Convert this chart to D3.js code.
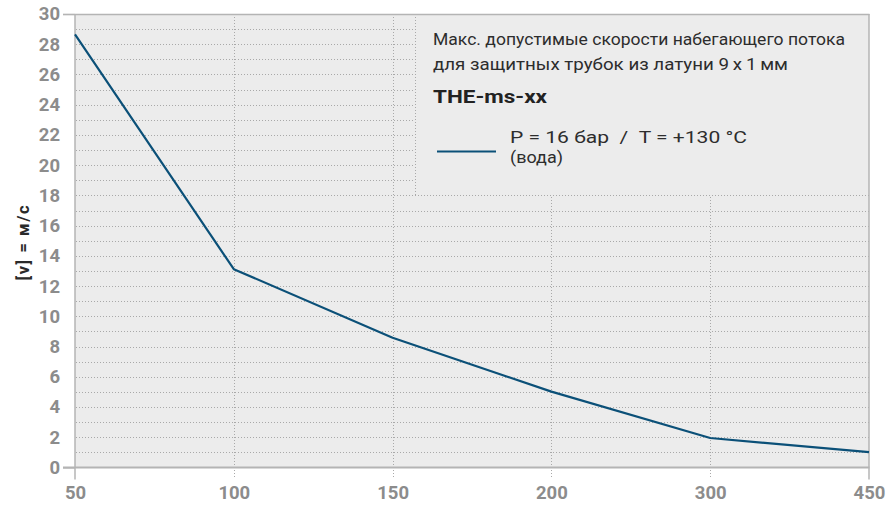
<!DOCTYPE html>
<html>
<head>
<meta charset="utf-8">
<script src="https://cdn.jsdelivr.net/npm/d3@7"></script>
<style>
  html, body { margin: 0; padding: 0; background: #ffffff; }
  svg { display: block; }
</style>
</head>
<body>
<svg id="chart" width="888" height="507"></svg>
<script>
// ---- data ----
const categories = ["50", "100", "150", "200", "300", "450"];
const velocities = [28.65, 13.12, 8.58, 5.02, 1.95, 1.02];
const yTickValues = [0, 2, 4, 6, 8, 10, 12, 14, 16, 18, 20, 22, 24, 26, 28, 30];
const yMinorValues = d3.range(1, 30, 1);
const yAxisLabel = "[v] = м/с";
const titleLines = ["Макс. допустимые скорости набегающего потока", "для защитных трубок из латуни 9\u2009x\u20091\u2009мм"];
const productName = "THE-ms-xx";
const seriesLabel = ["P = 16 бар  /  T = +130 °C", "(вода)"];

// ---- layout ----
const pL = 75, pR = 869, pT = 14, pB = 467.5;
const svg = d3.select("#chart");
const x = d3.scalePoint().domain(categories).range([pL, pR]);
const y = d3.scaleLinear().domain([0, 30]).range([pB, pT]);

const lineColor = "#0b5078";
const gridColor = "#a9a9a9";
const axisColor = "#b4b4b4";
const tickTextColor = "#8c8c8c";
const bg = "#ececec";
const tf = "Roboto, 'DejaVu Sans', sans-serif";

// plot background
svg.append("rect").attr("x", pL).attr("y", pT)
  .attr("width", pR - pL).attr("height", pB - pT).attr("fill", bg);

// horizontal dotted gridlines (every unit)
svg.append("g").selectAll("line").data(yMinorValues).join("line")
  .attr("x1", pL + 1).attr("x2", pR)
  .attr("y1", d => Math.round(y(d)) + 0.5).attr("y2", d => Math.round(y(d)) + 0.5)
  .attr("stroke", gridColor).attr("stroke-width", 1).attr("stroke-dasharray", "1,2");

// vertical dotted gridlines
svg.append("g").selectAll("line").data(categories.slice(1, -1)).join("line")
  .attr("x1", d => Math.round(x(d)) + 0.5).attr("x2", d => Math.round(x(d)) + 0.5)
  .attr("y1", pT).attr("y2", pB + 11)
  .attr("stroke", gridColor).attr("stroke-width", 1).attr("stroke-dasharray", "1,2");

// legend box (covers grid)
const boxX = 415, boxBottom = Math.round(y(18));
svg.append("rect").attr("x", boxX).attr("y", pT)
  .attr("width", pR - boxX).attr("height", boxBottom - pT).attr("fill", bg);
svg.append("line").attr("x1", boxX + 0.5).attr("x2", boxX + 0.5)
  .attr("y1", pT).attr("y2", boxBottom)
  .attr("stroke", gridColor).attr("stroke-dasharray", "1,2");

// y axis (left)
const yAxis = d3.axisLeft(y).tickValues(yTickValues).tickSize(12).tickPadding(3).tickFormat(d3.format("d"));
const gy = svg.append("g").attr("transform", `translate(${pL},0)`).call(yAxis);
gy.select(".domain").remove();
gy.selectAll(".tick line").attr("stroke", axisColor).attr("stroke-width", 1.2);
gy.selectAll(".tick text").attr("fill", tickTextColor)
  .style("font-family", tf).style("font-size", "18.5px").style("font-weight", "700");
gy.selectAll(".tick").filter(d => d !== 30 && d !== 0).select("line").remove();

// x axis
const xAxis = d3.axisBottom(x).tickSize(0).tickPadding(18);
const gx = svg.append("g").attr("transform", `translate(0,${pB})`).call(xAxis);
gx.select(".domain").remove();
gx.selectAll(".tick text").attr("fill", tickTextColor)
  .style("font-family", tf).style("font-size", "18.5px").style("font-weight", "700");

// frame lines
svg.append("line").attr("x1", pL - 12).attr("x2", pR + 0.5).attr("y1", pT + 0.5).attr("y2", pT + 0.5)
  .attr("stroke", axisColor).attr("stroke-width", 1.5);
svg.append("line").attr("x1", pL - 12).attr("x2", pR + 0.5).attr("y1", pB).attr("y2", pB)
  .attr("stroke", axisColor).attr("stroke-width", 2);
svg.append("line").attr("x1", pL).attr("x2", pL).attr("y1", pT).attr("y2", pB + 12)
  .attr("stroke", axisColor).attr("stroke-width", 1.5);
svg.append("line").attr("x1", pR).attr("x2", pR).attr("y1", pT).attr("y2", pB + 12)
  .attr("stroke", axisColor).attr("stroke-width", 1.5);

// data line
const line = d3.line().x((d, i) => x(categories[i])).y(d => y(d));
svg.append("path").datum(velocities).attr("d", line)
  .attr("fill", "none").attr("stroke", lineColor).attr("stroke-width", 2.2)
  .attr("stroke-linejoin", "round");

// y axis label
svg.append("text").attr("transform", "translate(29,243) rotate(-90)")
  .attr("text-anchor", "middle").attr("fill", "#2a2a2a")
  .style("font-family", tf).style("font-size", "16.5px").style("font-weight", "700")
  .attr("textLength", 75).attr("lengthAdjust", "spacing")
  .text(yAxisLabel);

// legend texts
svg.append("text").attr("x", 433).attr("y", 45).attr("fill", "#2d2d2d")
  .style("font-family", tf).style("font-size", "16.5px")
  .attr("textLength", 412).attr("lengthAdjust", "spacingAndGlyphs").text(titleLines[0]);
svg.append("text").attr("x", 433).attr("y", 70).attr("fill", "#2d2d2d")
  .style("font-family", tf).style("font-size", "16.5px")
  .attr("textLength", 355).attr("lengthAdjust", "spacingAndGlyphs").text(titleLines[1]);
svg.append("text").attr("x", 433).attr("y", 103).attr("fill", "#222")
  .style("font-family", tf).style("font-size", "18px").style("font-weight", "700")
  .attr("textLength", 114).attr("lengthAdjust", "spacingAndGlyphs").text(productName);

svg.append("line").attr("x1", 437).attr("x2", 496).attr("y1", 151.5).attr("y2", 151.5)
  .attr("stroke", lineColor).attr("stroke-width", 2);
svg.append("text").attr("x", 510).attr("y", 143).attr("fill", "#2d2d2d")
  .style("font-family", tf).style("font-size", "16.5px").style("white-space", "pre")
  .attr("textLength", 237).attr("lengthAdjust", "spacingAndGlyphs").text(seriesLabel[0]);
svg.append("text").attr("x", 510).attr("y", 163).attr("fill", "#2d2d2d")
  .style("font-family", tf).style("font-size", "16.5px")
  .attr("textLength", 53).attr("lengthAdjust", "spacingAndGlyphs").text(seriesLabel[1]);
</script>
</body>
</html>
